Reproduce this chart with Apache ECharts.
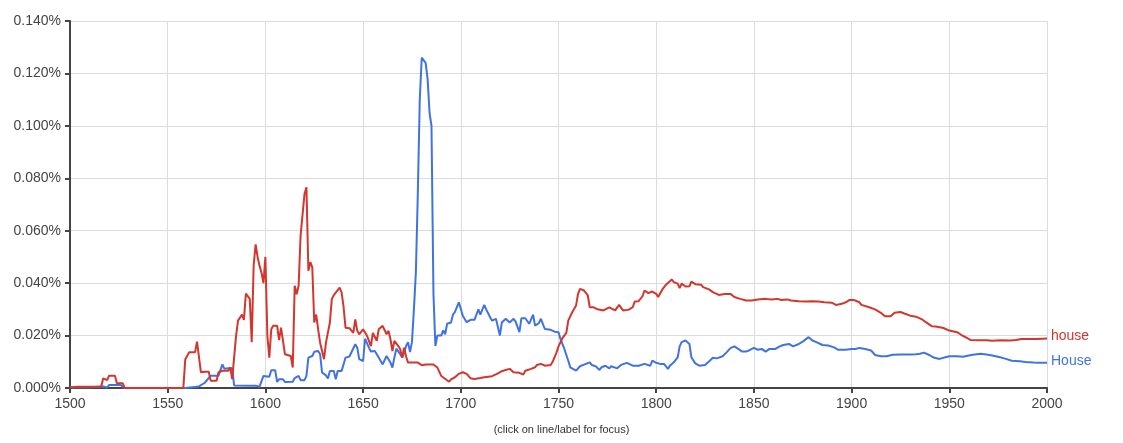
<!DOCTYPE html>
<html>
<head>
<meta charset="utf-8">
<script src="https://cdn.jsdelivr.net/npm/echarts@6/dist/echarts.min.js"></script>
<style>
html, body { margin: 0; padding: 0; background: #fff; }
#chart { width: 1123px; height: 443px; }
</style>
</head>
<body>
<div id="chart"></div>
<script>
// x-axis tick labels (years)
var yearTicks = [1500, 1550, 1600, 1650, 1700, 1750, 1800, 1850, 1900, 1950, 2000];

// "house" (lowercase) – years and frequency in percent
var houseYears = [1500,1504,1511,1516,1517,1519,1520,1523,1524,1527,1528,1558,1559,1561,1564,1565,1566,1567,1569,1571,
  1572,1575,1576,1578,1581,1582,1583,1585,1586,1588,1589,1590,1591,1592,1593,1594,1595,1596,1597,1598,
  1599,1600,1601,1602,1603,1604,1606,1607,1608,1610,1611,1613,1614,1615,1616,1617,1618,1619,1620,1621,
  1622,1623,1624,1625,1626,1627,1628,1629,1630,1631,1633,1634,1635,1636,1638,1639,1640,1641,1643,1644,
  1645,1646,1647,1648,1650,1651,1652,1654,1655,1656,1657,1658,1660,1661,1662,1663,1664,1665,1666,1668,
  1669,1670,1671,1672,1673,1674,1676,1678,1680,1682,1683,1686,1688,1690,1691,1694,1695,1697,1699,1701,
  1703,1705,1707,1710,1712,1714,1716,1719,1721,1723,1725,1727,1728,1730,1732,1733,1736,1738,1739,1741,
  1743,1744,1746,1747,1749,1750,1752,1754,1755,1757,1759,1760,1761,1763,1765,1766,1768,1770,1771,1773,
  1776,1777,1779,1781,1783,1784,1786,1788,1789,1791,1793,1794,1796,1798,1800,1801,1803,1805,1806,1808,
  1809,1811,1812,1813,1815,1817,1818,1820,1823,1824,1827,1829,1832,1835,1838,1840,1843,1846,1849,1852,
  1856,1859,1862,1864,1867,1869,1873,1876,1880,1883,1886,1890,1892,1895,1897,1899,1901,1904,1905,1909,
  1912,1915,1917,1920,1922,1925,1927,1930,1933,1936,1938,1941,1943,1947,1950,1954,1956,1959,1961,1965,
  1969,1972,1976,1981,1984,1987,1991,1995,2000];
var houseValues = [0.0002,0.0005,0.0005,0.0006,0.0037,0.0030,0.0047,0.0047,0.0018,0.0018,0,0,0.011,0.0136,0.0136,0.0177,0.0177,0.006,0.0062,0.0062,
  0.0028,0.0028,0.006,0.0066,0.0066,0.0079,0.0034,0.020,0.0257,0.028,0.026,0.036,0.036,0.034,0.0175,0.047,0.0548,0.050,0.0466,0.044,
  0.040,0.050,0.020,0.0116,0.0224,0.0237,0.0237,0.0183,0.023,0.0129,0.0122,0.0122,0.0078,0.039,0.0358,0.039,0.058,0.058,0.074,0.0766,
  0.0447,0.048,0.046,0.025,0.028,0.0224,0.0173,0.0167,0.011,0.0173,0.025,0.034,0.0354,0.0354,0.0383,0.0364,0.031,0.023,0.0228,0.0234,
  0.021,0.0262,0.0218,0.0205,0.0224,0.0218,0.0199,0.016,0.021,0.0205,0.018,0.0224,0.0237,0.023,0.0205,0.0218,0.0186,0.0141,0.018,0.016,
  0.0148,0.0116,0.0154,0.012,0.0097,0.0099,0.0097,0.0097,0.0087,0.009,0.0087,0.009,0.0078,0.0046,0.004,0.0024,0.0033,0.0041,0.0054,0.006,
  0.0054,0.0037,0.0034,0.0038,0.0041,0.0043,0.0045,0.0056,0.0064,0.0069,0.0073,0.006,0.0054,0.0058,0.0051,0.0066,0.0073,0.0079,0.0088,0.0092,
  0.0085,0.0092,0.0088,0.010,0.0136,0.0159,0.019,0.021,0.0257,0.0289,0.0315,0.0359,0.0378,0.0372,0.0353,0.0308,0.0308,0.030,0.0304,0.0296,
  0.0308,0.0301,0.0296,0.0317,0.0296,0.0293,0.0299,0.0308,0.033,0.0331,0.035,0.0372,0.0362,0.0368,0.0359,0.0347,0.0374,0.0394,0.0390,0.0414,
  0.0404,0.0398,0.0381,0.0398,0.0387,0.0388,0.0406,0.0396,0.0394,0.0385,0.0376,0.0366,0.0355,0.0359,0.0359,0.0347,0.034,0.0334,0.0334,0.0338,
  0.034,0.0338,0.034,0.0336,0.0338,0.0334,0.0331,0.033,0.0331,0.033,0.0327,0.0325,0.0317,0.0321,0.0327,0.0336,0.0336,0.0327,0.0317,0.0308,
  0.030,0.0287,0.0274,0.0274,0.0287,0.029,0.0284,0.0276,0.0272,0.0262,0.0251,0.0236,0.0235,0.0229,0.0219,0.0213,0.0203,0.0191,0.0183,0.0182,
  0.0182,0.018,0.0182,0.0181,0.0183,0.0187,0.0187,0.0187,0.0189];

// "House" (capitalised) – years and frequency in percent
var capYears = [1500,1510,1511,1517,1519,1520,1526,1528,1559,1560,1566,1567,1569,1572,1576,1577,1578,1579,1581,1583,
  1584,1585,1595,1597,1598,1599,1600,1602,1603,1605,1606,1607,1609,1610,1611,1614,1615,1616,1617,1618,
  1620,1621,1622,1624,1625,1627,1628,1629,1631,1632,1633,1635,1636,1637,1639,1640,1641,1643,1644,1646,
  1647,1648,1650,1651,1653,1654,1656,1657,1658,1660,1661,1662,1664,1665,1666,1667,1669,1670,1671,1672,
  1673,1674,1675,1676,1677,1678,1679,1680,1681,1682,1683,1684,1685,1686,1687,1688,1690,1691,1692,1693,
  1695,1696,1697,1698,1699,1700,1701,1703,1705,1707,1709,1710,1712,1713,1715,1716,1718,1720,1721,1723,
  1725,1727,1728,1730,1731,1733,1735,1737,1738,1740,1741,1743,1744,1746,1748,1750,1751,1753,1755,1756,
  1759,1761,1764,1766,1767,1769,1771,1772,1774,1776,1777,1780,1782,1785,1788,1789,1791,1794,1795,1797,
  1798,1799,1800,1802,1804,1806,1807,1809,1811,1812,1813,1815,1817,1818,1820,1822,1823,1825,1827,1829,
  1831,1834,1836,1838,1840,1842,1844,1846,1848,1850,1852,1854,1856,1858,1861,1863,1865,1868,1870,1873,
  1875,1878,1880,1882,1885,1888,1891,1893,1897,1900,1902,1904,1907,1910,1912,1915,1918,1921,1925,1930,
  1933,1935,1937,1940,1942,1945,1948,1950,1954,1957,1960,1962,1966,1969,1972,1976,1979,1982,1986,1989,
  1993,1996,2000];
var capValues = [0.0002,0.0003,0.0006,0.0006,0.0002,0.0011,0.0011,0,0,0.0006,0.0006,0.0002,0.002,0.0047,0.0047,0.005,0.009,0.0073,0.0075,0.0075,
  0.001,0.0009,0.0009,0.0005,0.0005,0.0046,0.0046,0.0043,0.0068,0.0068,0.0023,0.0033,0.0033,0.0023,0.0024,0.0024,0.0038,0.0036,0.0046,0.003,
  0.003,0.0046,0.0116,0.0122,0.0138,0.0141,0.0129,0.0059,0.0048,0.0036,0.0065,0.0065,0.0033,0.0065,0.0065,0.009,0.0116,0.012,0.0116,0.0167,
  0.0154,0.011,0.0103,0.0188,0.0154,0.0139,0.0141,0.0145,0.0116,0.009,0.009,0.0122,0.0097,0.0078,0.0116,0.015,0.0129,0.0116,0.0135,0.016,
  0.0175,0.0137,0.0175,0.03,0.044,0.074,0.11,0.126,0.126,0.124,0.118,0.105,0.100,0.036,0.016,0.020,0.020,0.022,0.0205,0.0245,
  0.025,0.028,0.029,0.029,0.0327,0.0334,0.0276,0.0251,0.026,0.026,0.030,0.028,0.0317,0.030,0.027,0.0257,0.0264,0.020,0.025,0.0264,
  0.025,0.0264,0.0254,0.0213,0.0266,0.0266,0.0245,0.028,0.0238,0.0248,0.0264,0.0225,0.0232,0.0222,0.0215,0.0213,0.0187,0.0149,0.0104,0.0079,
  0.0066,0.0083,0.0092,0.0098,0.0088,0.0083,0.0069,0.0079,0.0085,0.0075,0.0083,0.0075,0.0088,0.0096,0.0085,0.0079,0.0085,0.0092,0.0088,0.0085,
  0.0104,0.0111,0.0096,0.0092,0.0092,0.0073,0.0085,0.0098,0.0117,0.0159,0.0175,0.0181,0.0168,0.0117,0.0094,0.0085,0.0083,0.0088,0.0101,0.0115,
  0.0113,0.0121,0.0136,0.0152,0.0159,0.0149,0.0139,0.0139,0.0145,0.0153,0.0146,0.0149,0.0139,0.0149,0.0149,0.0158,0.0164,0.0168,0.0159,0.0168,
  0.0177,0.0194,0.0181,0.0175,0.0164,0.0162,0.0155,0.0146,0.0146,0.0149,0.0149,0.0153,0.0149,0.0143,0.0126,0.0121,0.0121,0.0127,0.0128,0.0128,
  0.0129,0.0131,0.0135,0.0125,0.0116,0.0111,0.0117,0.0121,0.0121,0.0119,0.0124,0.0127,0.0131,0.0128,0.0124,0.0117,0.0111,0.0104,0.0102,0.0099,
  0.0097,0.0096,0.0096];

var RED = '#d3362c';
var BLUE = '#4173e0';

function pairs(xs, ys) {
    return xs.map(function (x, i) { return [x, ys[i]]; });
}

var myChart = echarts.init(document.getElementById('chart'), null, { renderer: 'canvas' });
var option = {
    animation: false,
    textStyle: { fontFamily: 'Liberation Sans, Arial, sans-serif' },
    grid: { left: 70, right: 76, top: 21, bottom: 55, containLabel: false },
    xAxis: {
        type: 'value',
        min: yearTicks[0],
        max: yearTicks[yearTicks.length - 1],
        interval: 50,
        axisLine: { show: true, onZero: false, lineStyle: { color: '#444', width: 2 } },
        axisTick: { show: true, length: 5, lineStyle: { color: '#444', width: 2 } },
        axisLabel: { color: '#444', fontSize: 14, margin: 9, formatter: function (v) { return String(v); } },
        splitLine: { show: true, lineStyle: { color: '#dcdcdc', width: 1 } }
    },
    yAxis: {
        type: 'value',
        min: 0,
        max: 0.14,
        interval: 0.02,
        axisLine: { show: true, lineStyle: { color: '#444', width: 2 } },
        axisTick: { show: true, length: 5, lineStyle: { color: '#444', width: 2 } },
        axisLabel: { color: '#444', fontSize: 14, margin: 9, formatter: function (v) { return v.toFixed(3) + '%'; } },
        splitLine: { show: true, lineStyle: { color: '#dcdcdc', width: 1 } }
    },
    series: [
        {
            name: 'House',
            type: 'line',
            data: pairs(capYears, capValues),
            showSymbol: false,
            lineStyle: { color: BLUE, width: 2 },
            itemStyle: { color: BLUE },
            endLabel: { show: true, formatter: 'House', color: BLUE, fontSize: 14, distance: 4, offset: [0, -2] }
        },
        {
            name: 'house',
            type: 'line',
            data: pairs(houseYears, houseValues),
            showSymbol: false,
            lineStyle: { color: RED, width: 2 },
            itemStyle: { color: RED },
            endLabel: { show: true, formatter: 'house', color: RED, fontSize: 14, distance: 4, offset: [0, -2] }
        }
    ],
    graphic: [{
        type: 'text',
        left: 'center',
        top: 424,
        style: { text: '(click on line/label for focus)', fontSize: 11, fill: '#333', fontFamily: 'Liberation Sans, Arial, sans-serif' }
    }]
};
myChart.setOption(option);
</script>
</body>
</html>
